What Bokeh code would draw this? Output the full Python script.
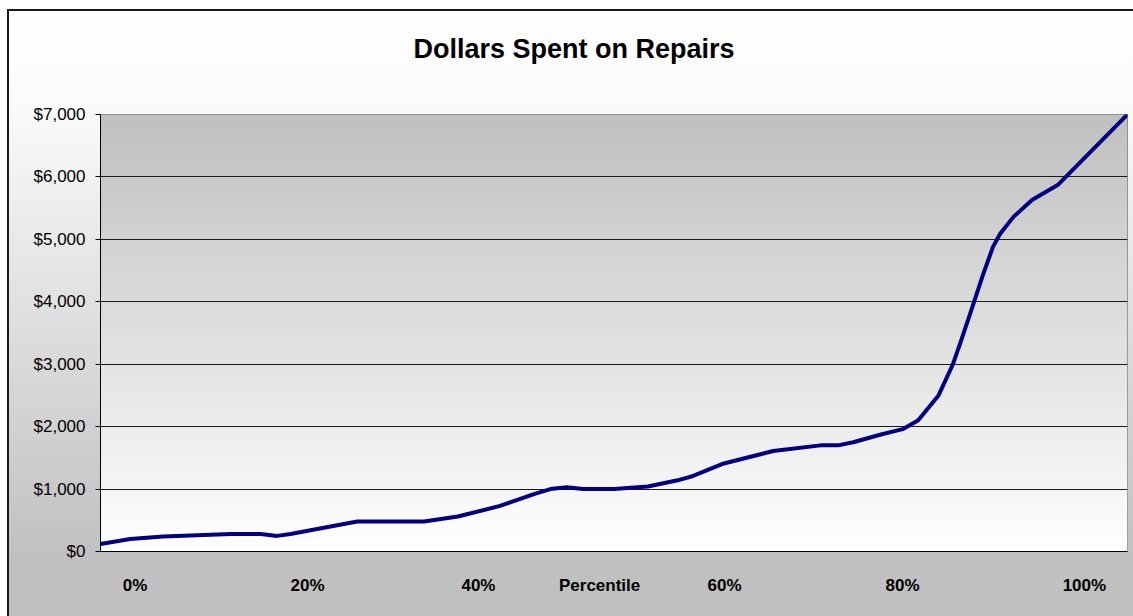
import numpy as np
from bokeh.plotting import figure
from bokeh.models import Range1d, FixedTicker, NumeralTickFormatter
from bokeh.embed import file_html
from bokeh.resources import INLINE

# ---- data ----
position = [0.0, 2.9, 6.1, 12.7, 15.6, 17.2, 18.5, 25.0, 31.5, 34.8, 38.9, 42.2,
            43.8, 45.4, 47.0, 50.0, 53.3, 56.2, 57.7, 60.7, 65.5, 70.1, 71.8, 73.3,
            75.9, 78.1, 79.6, 81.6, 83.0, 83.7, 84.9, 85.9, 86.9, 87.6, 88.9, 90.7,
            93.2, 100.0]
dollars = [120, 200, 240, 280, 280, 250, 280, 480, 480, 560, 730, 920,
           1000, 1030, 1000, 1000, 1040, 1140, 1210, 1410, 1610, 1700, 1700, 1750,
           1870, 1960, 2100, 2500, 3000, 3330, 3920, 4420, 4880, 5090, 5360, 5630,
           5870, 7000]

x_label_pos = [3.36, 20.16, 36.8, 48.6, 60.76, 78.1, 95.8]
x_label_txt = ["0%", "20%", "40%", "Percentile", "60%", "80%", "100%"]
y_ticks = [0, 1000, 2000, 3000, 4000, 5000, 6000, 7000]
grid_ticks = [1000, 2000, 3000, 4000, 5000, 6000]

TITLE = "Dollars Spent on Repairs"
FONT = "Liberation Sans"

p = figure(width=1126, height=607, x_range=Range1d(0, 100), y_range=Range1d(0, 7000),
           output_backend="svg", toolbar_location=None, title=TITLE + "\n",
           min_border_left=93, min_border_right=6, min_border_top=105, min_border_bottom=65)
p.margin = (9, 0, 0, 7)
p.border_fill_color = None
p.background_fill_color = None
p.outline_line_color = "#808080"
p.outline_line_width = 1
p.styles = {
    "background": "linear-gradient(to bottom, #ffffff 0%, #fbfbfb 15%, #c0c0c0 91%, #c0c0c0 100%)",
    "box-shadow": "inset 2px 2px 0 0 #1a1a1a",
}

# title
p.title.align = "left"
p.title.offset = 313
p.title.standoff = 38
p.title.vertical_align = "top"
p.title.text_font = FONT
p.title.text_font_size = "27px"
p.title.text_font_style = "bold"
p.title.text_color = "#000000"

# plot-area gradient: gray at top, white at bottom
N = 437
img = np.empty((N, 1), dtype=np.uint32)
view = img.view(dtype=np.uint8).reshape((N, 1, 4))
t = np.linspace(0.0, 1.0, N)
g = (255 - 63 * t).astype(np.uint8)
view[:, 0, 0] = g
view[:, 0, 1] = g
view[:, 0, 2] = g
view[:, 0, 3] = 255
p.image_rgba(image=[img], x=0, y=0, dw=100, dh=7000, level="image")

# grid
p.xgrid.visible = False
p.ygrid.ticker = FixedTicker(ticks=grid_ticks)
p.ygrid.grid_line_color = "#1a1a1a"
p.ygrid.grid_line_width = 1
p.ygrid.level = "underlay"

# y axis
p.yaxis.ticker = FixedTicker(ticks=y_ticks)
p.yaxis.formatter = NumeralTickFormatter(format="$0,0")
p.yaxis.axis_line_color = "#000000"
p.yaxis.major_tick_line_color = "#000000"
p.yaxis.major_tick_out = 5
p.yaxis.major_tick_in = 0
p.yaxis.minor_tick_line_color = None
p.yaxis.major_label_standoff = 10
p.yaxis.major_label_text_font = FONT
p.yaxis.major_label_text_font_size = "17px"
p.yaxis.major_label_text_color = "#000000"

# x axis
p.xaxis.ticker = FixedTicker(ticks=x_label_pos)
p.xaxis.major_label_overrides = {pos: txt for pos, txt in zip(x_label_pos, x_label_txt)}
p.xaxis.axis_line_color = "#000000"
p.xaxis.major_tick_line_color = None
p.xaxis.major_tick_out = 0
p.xaxis.major_tick_in = 0
p.xaxis.minor_tick_line_color = None
p.xaxis.major_label_standoff = 24
p.xaxis.major_label_text_font = FONT
p.xaxis.major_label_text_font_size = "17px"
p.xaxis.major_label_text_font_style = "bold"
p.xaxis.major_label_text_color = "#000000"

# data line
p.line(position, dollars, line_color="#000080", line_width=4,
       line_join="round", line_cap="round")

open("out.html", "w").write(file_html(p, INLINE))
